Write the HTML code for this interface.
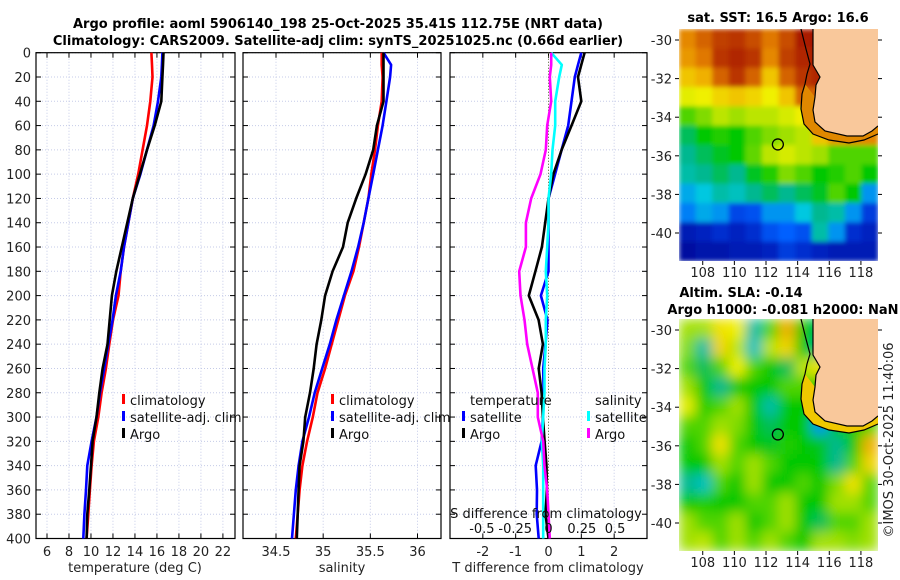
<!DOCTYPE html>
<html><head><meta charset="utf-8"><style>
html,body{margin:0;padding:0;background:#fff}
svg{display:block;font-family:"DejaVu Sans","Liberation Sans",sans-serif}
</style></head><body>
<svg id="fig" width="900" height="580" viewBox="0 0 900 580">
<defs>
<filter id="blurS" x="0" y="0" width="1" height="1"><feGaussianBlur stdDeviation="2.5" edgeMode="duplicate"/></filter>
<filter id="blurL" x="0" y="0" width="1" height="1"><feGaussianBlur stdDeviation="6" edgeMode="duplicate"/></filter>
<clipPath id="clip1"><rect x="679" y="29" width="199" height="232"/></clipPath>
<clipPath id="clip2"><rect x="679" y="319" width="199" height="232"/></clipPath>
</defs>
<text x="338" y="28" font-size="13" font-weight="bold" text-anchor="middle">Argo profile: aoml 5906140_198 25-Oct-2025 35.41S 112.75E (NRT data)</text>
<text x="338" y="45" font-size="13" font-weight="bold" text-anchor="middle">Climatology: CARS2009. Satellite-adj clim: synTS_20251025.nc (0.66d earlier)</text>
<text x="778" y="22" font-size="13" font-weight="bold" text-anchor="middle">sat. SST: 16.5 Argo: 16.6</text>
<text x="741" y="297" font-size="13" font-weight="bold" text-anchor="middle">Altim. SLA: -0.14</text>
<text x="783" y="314" font-size="13" font-weight="bold" text-anchor="middle">Argo h1000: -0.081 h2000: NaN</text>
<text transform="translate(893,440) rotate(-90)" font-size="13" text-anchor="middle" fill="#222">©IMOS 30-Oct-2025 11:40:06</text>
<g id="g"></g>
</svg>
<script>
const depths=[0,10,20,40,60,80,100,120,140,160,180,200,220,240,260,280,300,320,340,360,380,400];
const tClim=[15.5,15.55,15.6,15.4,15.1,14.7,14.3,13.8,13.4,13.0,12.7,12.5,12.0,11.67,11.36,10.97,10.67,10.27,10.06,9.9,9.76,9.6];
const tSat=[16.5,16.45,16.4,16.1,15.7,15.1,14.5,13.8,13.4,13.0,12.7,12.27,11.97,11.58,11.2,10.82,10.5,10.06,9.67,9.55,9.4,9.3];
const tArgo=[16.6,16.55,16.5,16.4,15.8,15.1,14.45,13.8,13.3,12.8,12.3,11.9,11.7,11.5,11.06,10.76,10.5,10.15,10.0,9.85,9.67,9.6];
const sClim=[35.62,35.62,35.63,35.62,35.58,35.55,35.51,35.48,35.43,35.38,35.32,35.23,35.16,35.09,35.02,34.94,34.89,34.83,34.78,34.75,34.73,34.71];
const sSat=[35.64,35.72,35.71,35.67,35.63,35.58,35.53,35.48,35.43,35.37,35.3,35.22,35.14,35.07,34.99,34.91,34.85,34.78,34.74,34.71,34.69,34.67];
const sArgo=[35.64,35.64,35.64,35.64,35.57,35.53,35.45,35.35,35.26,35.21,35.1,35.02,34.98,34.93,34.9,34.86,34.81,34.79,34.75,34.74,34.73,34.72];
const depthTicks=[0,20,40,60,80,100,120,140,160,180,200,220,240,260,280,300,320,340,360,380,400];
const tTicks=[6,8,10,12,14,16,18,20,22];
const sTicks=[34.5,35,35.5,36];
const dTTicks=[-2,-1,0,1,2];
const dSTicks=[-0.5,-0.25,0,0.25,0.5];
const dSLabels=["-0.5","-0.25","0","0.25","0.5"];
const lonTicks=[108,110,112,114,116,118];
const latTicks=[-30,-32,-34,-36,-38,-40];
const argoLon=112.75, argoLat=-35.41;
const sstGrid=[
[.8,.85,.9,.92,.88,.82,.88,.97,1,1,1,1],
[.78,.82,.92,.95,.92,.8,.9,.95,.98,.9,.9,.9],
[.72,.75,.85,.92,.85,.72,.85,.92,.95,.8,.8,.8],
[.65,.66,.7,.72,.7,.66,.72,.85,.85,.75,.75,.75],
[.55,.58,.62,.6,.62,.62,.64,.66,.7,.8,.8,.8],
[.45,.5,.52,.5,.55,.58,.6,.62,.72,.78,.8,.8],
[.42,.45,.48,.5,.56,.62,.64,.62,.6,.55,.55,.55],
[.4,.42,.45,.42,.48,.52,.58,.55,.5,.52,.55,.5],
[.32,.35,.4,.38,.42,.45,.42,.45,.48,.55,.5,.3],
[.28,.32,.3,.2,.22,.3,.3,.35,.42,.4,.3,.18],
[.1,.12,.15,.12,.15,.22,.25,.22,.4,.3,.15,.12],
[.06,.08,.08,.1,.1,.12,.18,.15,.12,.1,.1,.1]];
const slaGrid=[
[.6,.6,.68,.66,.4,.55,.75,.5,.45,.55,.6,.6],
[.58,.4,.7,.62,.38,.62,.7,.5,.42,.55,.6,.6],
[.55,.45,.55,.66,.55,.5,.45,.62,.68,.6,.6,.6],
[.6,.5,.42,.5,.5,.5,.55,.55,.5,.55,.6,.6],
[.65,.52,.55,.6,.5,.4,.5,.5,.5,.52,.6,.6],
[.55,.55,.6,.58,.5,.45,.5,.5,.3,.5,.52,.55],
[.5,.55,.68,.55,.5,.48,.52,.5,.48,.42,.5,.75],
[.5,.5,.6,.55,.6,.55,.5,.5,.5,.42,.55,.7],
[.42,.38,.55,.5,.6,.5,.5,.55,.5,.58,.68,.55],
[.5,.52,.5,.5,.55,.55,.6,.5,.5,.6,.6,.55],
[.6,.55,.55,.6,.5,.55,.6,.5,.45,.55,.55,.6],
[.6,.62,.55,.6,.55,.6,.55,.5,.6,.6,.58,.6]];

const NS='http://www.w3.org/2000/svg';
const G=document.getElementById('g');
function el(tag,attrs,parent,txt){const e=document.createElementNS(NS,tag);for(const k in attrs)e.setAttribute(k,attrs[k]);if(txt!==undefined)e.textContent=txt;(parent||G).appendChild(e);return e;}
const PT=52.7,PB=538.5;
const yD=d=>PT+(d/400)*(PB-PT);
function lin(d0,d1,r0,r1){return v=>r0+(v-d0)/(d1-d0)*(r1-r0);}
const panels=[
 {x0:36,x1:235,name:'temperature-panel'},
 {x0:243,x1:441,name:'salinity-panel'},
 {x0:450,x1:647,name:'difference-panel'}];
const xT=lin(5,23.1,36,235);
const xS=lin(34.5,36,276,417.5);
const xdT=lin(-3,3,450,647);
const xdS=lin(0,0.25,548.5,581.8);

function panelFrame(p,vgrid,leftLabels){
  const g=el('g',{});
  
  
  depthTicks.forEach(d=>{const y=yD(d);
    el('line',{x1:p.x0,x2:p.x1,y1:y,y2:y,stroke:'#c5cbe8','stroke-width':1,'stroke-dasharray':'1,2'},g);
    el('line',{x1:p.x0,x2:p.x0+5,y1:y,y2:y,stroke:'#000'},g);
    el('line',{x1:p.x1-5,x2:p.x1,y1:y,y2:y,stroke:'#000'},g);
    if(leftLabels){const t=el('text',{x:31,y:y+5,'font-size':13,'text-anchor':'end',fill:'#222'},g,String(d));
      }
  });
  vgrid.forEach(x=>{
    el('line',{x1:x,x2:x,y1:PT,y2:PB,stroke:'#c5cbe8','stroke-width':1,'stroke-dasharray':'1,2'},g);
    el('line',{x1:x,x2:x,y1:PB,y2:PB-5,stroke:'#000'},g);
    el('line',{x1:x,x2:x,y1:PT,y2:PT+5,stroke:'#000'},g);
  });
  el('rect',{x:p.x0,y:PT,width:p.x1-p.x0,height:PB-PT,fill:'none',stroke:'#000','stroke-width':1.2},g);
  return g;
}
function profile(vals,xf,color,name,g){
  const pts=vals.map((v,i)=>xf(v).toFixed(1)+','+yD(depths[i]).toFixed(1)).join(' ');
  const e=el('polyline',{points:pts,fill:'none',stroke:color,'stroke-width':2.6,'stroke-linejoin':'round'},g);
  
  
}
function legend(items,x,y0,g){
  items.forEach((it,i)=>{const y=y0+i*17;
    el('rect',{x:x,y:y-11,width:3,height:10,fill:it[0]},g);
    const t=el('text',{x:x+8,y:y,'font-size':13,fill:'#111'},g,it[1]);
    
  });
}
let g1=panelFrame(panels[0],tTicks.map(xT),true);
profile(tClim,xT,'#ff0000','temp-climatology-line',g1);
profile(tSat,xT,'#0000ff','temp-satellite-line',g1);
profile(tArgo,xT,'#000000','temp-argo-line',g1);
tTicks.forEach(v=>el('text',{x:xT(v),y:556,'font-size':13,'text-anchor':'middle',fill:'#222'},g1,String(v)));
let xl1=el('text',{x:135,y:572,'font-size':13,'text-anchor':'middle',fill:'#222'},g1,'temperature (deg C)');

legend([['#ff0000','climatology'],['#0000ff','satellite-adj. clim'],['#000','Argo']],122,405,g1);
let g2=panelFrame(panels[1],sTicks.map(xS),false);
profile(sClim,xS,'#ff0000','sal-climatology-line',g2);
profile(sSat,xS,'#0000ff','sal-satellite-line',g2);
profile(sArgo,xS,'#000000','sal-argo-line',g2);
sTicks.forEach(v=>el('text',{x:xS(v),y:556,'font-size':13,'text-anchor':'middle',fill:'#222'},g2,String(v)));
let xl2=el('text',{x:342,y:572,'font-size':13,'text-anchor':'middle',fill:'#222'},g2,'salinity');

legend([['#ff0000','climatology'],['#0000ff','satellite-adj. clim'],['#000','Argo']],331,405,g2);
let g3=panelFrame(panels[2],dTTicks.map(xdT),false);
el('line',{x1:xdT(0),x2:xdT(0),y1:PT,y2:PB,stroke:'#556b2f','stroke-width':1,'stroke-dasharray':'1,2'},g3);
profile(tSat.map((v,i)=>v-tClim[i]),xdT,'#0000ff','tdiff-satellite-line',g3);
profile(tArgo.map((v,i)=>v-tClim[i]),xdT,'#000000','tdiff-argo-line',g3);
profile(sSat.map((v,i)=>v-sClim[i]),xdS,'#00ffff','sdiff-satellite-line',g3);
profile(sArgo.map((v,i)=>v-sClim[i]),xdS,'#ff00ff','sdiff-argo-line',g3);
dTTicks.forEach(v=>el('text',{x:xdT(v),y:556,'font-size':13,'text-anchor':'middle',fill:'#222'},g3,String(v)));
dSTicks.forEach((v,i)=>el('text',{x:xdS(v),y:533,'font-size':13,'text-anchor':'middle',fill:'#111'},g3,dSLabels[i]));
el('text',{x:546,y:518,'font-size':13,'text-anchor':'middle',fill:'#111'},g3,'S difference from climatology');
let xl3=el('text',{x:548,y:572,'font-size':13,'text-anchor':'middle',fill:'#222'},g3,'T difference from climatology');

el('text',{x:470,y:405,'font-size':13,fill:'#111'},g3,'temperature');
el('text',{x:595,y:405,'font-size':13,fill:'#111'},g3,'salinity');
legend([['#0000ff','satellite'],['#000','Argo']],462,422,g3);
legend([['#00ffff','satellite'],['#ff00ff','Argo']],587,422,g3);

const cmapStops=[[0,[0,0,128]],[0.12,[0,32,192]],[0.25,[0,96,255]],[0.35,[0,200,224]],[0.42,[0,184,144]],[0.5,[0,200,0]],[0.6,[160,224,0]],[0.66,[240,240,0]],[0.75,[240,176,0]],[0.82,[224,120,0]],[0.9,[192,64,0]],[1,[160,16,0]]];
function cmap(v){v=Math.max(0,Math.min(1,v));
  for(let i=1;i<cmapStops.length;i++){const a=cmapStops[i-1],b=cmapStops[i];
    if(v<=b[0]){const f=(v-a[0])/(b[0]-a[0]);const c=a[1].map((x,k)=>Math.round(x+(b[1][k]-x)*f));return 'rgb('+c.join(',')+')';}}
  return 'rgb(160,16,0)';}
function drawMap(grid,top,name,shelfColor,clip,blur){
  const L=679,R=878,T=top,B=top+232;
  const xLon=lin(106.5,119.08,L,R), yLat=lin(-29.43,-41.45,T,B);
  const mg=el('g',{});
  
  
  const cg=el('g',{'clip-path':'url(#'+clip+')'},mg);
  const fg=el('g',{filter:'url(#'+blur+')'},cg);
  const nr=grid.length,nc=grid[0].length,cw=(R-L)/nc,ch=(B-T)/nr;
  grid.forEach((row,r)=>row.forEach((v,c)=>{
    el('rect',{x:L+c*cw,y:T+r*ch,width:cw+0.5,height:ch+0.5,fill:cmap(v)},fg);
  }));
  const shelf=[[122,0],[127,20],[131,35],[128,45],[126,55],[123,65],[122,80],[125,95],[134,105],[150,111],[170,114],[185,111],[199,105]];
  const land=[[134,0],[134,36],[141,48],[137,56],[136,68],[134,81],[136,93],[146,102],[168,107],[184,107],[193,102],[199,97]];
  const P=a=>a.map(p=>(L+p[0])+','+(T+p[1])).join(' ');
  el('polygon',{points:P(shelf.slice(4).concat(land.slice(4).reverse())),fill:shelfColor,stroke:'none'},cg);
  el('polygon',{points:P(land.concat([[199,0]])),fill:'#f9c89b',stroke:'none'},cg);
  el('polyline',{points:P(land),fill:'none',stroke:'#000','stroke-width':1.2},cg);
  el('polyline',{points:P(shelf),fill:'none',stroke:'#000','stroke-width':1.2},cg);
  const c=el('circle',{cx:xLon(argoLon),cy:yLat(argoLat),r:5.5,fill:'none',stroke:'#000','stroke-width':1.3},mg);
  
  latTicks.forEach(v=>{const y=yLat(v);
    el('line',{x1:R,x2:R+4,y1:y,y2:y,stroke:'#000'},mg);
    el('line',{x1:L-4,x2:L,y1:y,y2:y,stroke:'#000'},mg);
    el('text',{x:672,y:y+5,'font-size':13,'text-anchor':'end',fill:'#222'},mg,String(v));});
  lonTicks.forEach(v=>{const x=xLon(v);
    el('line',{x1:x,x2:x,y1:B,y2:B+4,stroke:'#000'},mg);
    el('text',{x:x,y:B+16,'font-size':13,'text-anchor':'middle',fill:'#222'},mg,String(v));});
}
drawMap(sstGrid,29,'sst-map','#e08800','clip1','blurS');
drawMap(slaGrid,319,'sla-map','#f0c800','clip2','blurL');
</script>
</body></html>
